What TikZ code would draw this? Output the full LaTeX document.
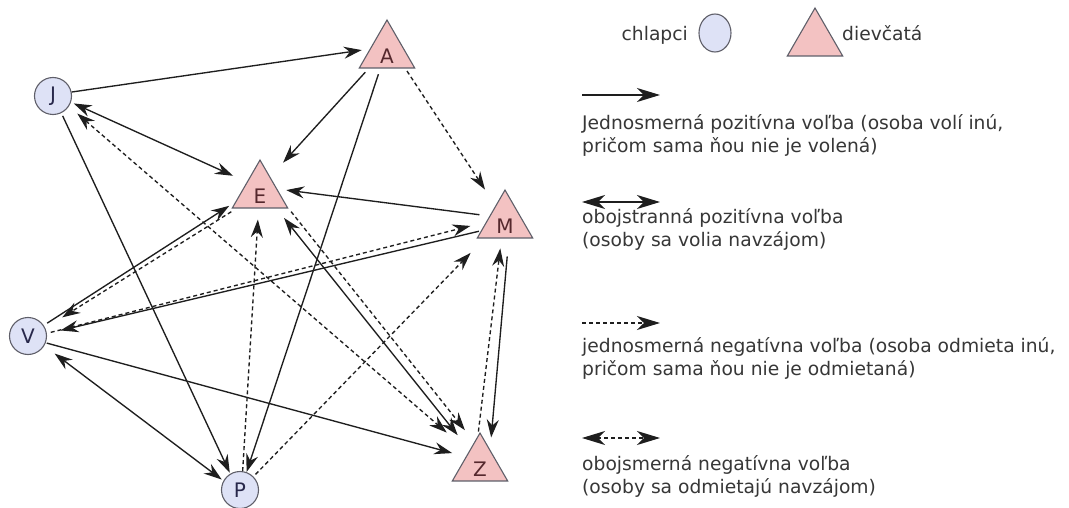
\documentclass[tikz,border=0pt]{standalone}
\usepackage{fontspec}
\setmainfont{DejaVu Sans}
\usetikzlibrary{arrows.meta,shapes.geometric}

\definecolor{boyfill}{RGB}{222,226,246}
\definecolor{girlfill}{RGB}{243,194,194}
\definecolor{outline}{RGB}{95,95,105}
\definecolor{edgecol}{RGB}{30,30,30}
\definecolor{legtxt}{RGB}{55,55,55}
\definecolor{boytxt}{RGB}{40,40,75}
\definecolor{girltxt}{RGB}{85,40,45}

\begin{document}
\begin{tikzpicture}[x=1pt,y=-1pt,
  >={Stealth[length=18pt,width=12pt,inset=6pt]},
  boy/.style={circle,draw=outline,line width=1.1pt,fill=boyfill,minimum size=37pt,
    inner sep=0pt,text=boytxt,font=\fontsize{20}{20}\selectfont},
  girl/.style={regular polygon,regular polygon sides=3,draw=outline,line width=1.1pt,
    fill=girlfill,minimum size=54pt,inner sep=0pt,text=girltxt,
    font=\fontsize{20}{20}\selectfont,text height=22.6pt,text depth=0pt},
  link/.style={draw=edgecol,line width=1.35pt},
  onepos/.style={link,->},
  twopos/.style={link,<->},
  oneneg/.style={link,->,dash pattern=on 4pt off 3pt},
  twoneg/.style={link,<->,dash pattern=on 4pt off 3pt},
  legarrow/.style={>={Stealth[length=23pt,width=14pt,inset=7pt]}},
  legtext/.style={anchor=base west,text=legtxt,inner sep=0pt,
    font=\fontsize{18.7}{23}\selectfont},
]
\fill[white] (0,0) rectangle (1069,508);
\useasboundingbox (0,0) rectangle (1069,508);

% pupils
\node[boy]  (J) at (53,96)   {J};
\node[boy]  (V) at (28,336)  {V};
\node[boy]  (P) at (240,490) {P};
\node[girl] (A) at (387,52)  {A};
\node[girl] (E) at (260,192) {E};
\node[girl] (M) at (505,222) {M};
\node[girl] (Z) at (480,465) {Z};

% choices
\draw[onepos, shorten >=8pt] (J.12) -- (A.170);
\draw[twopos, shorten <=3pt, shorten >=15pt] (J.-19) -- (E.143);
\draw[onepos, shorten <=3pt, shorten >=1pt] (J.-64) -- (P.121);
\draw[twoneg, shorten <=11pt, shorten >=29pt] (J.-33) -- (Z.130);
\draw[onepos, shorten <=5pt, shorten >=19pt] (A.222) -- (E.56);
\draw[onepos, shorten <=6pt] (A.248) -- (P.70);
\draw[oneneg, shorten <=3pt, shorten >=19pt] (A.-42) -- (M.120);
\draw[onepos, shorten <=10pt, shorten >=9pt] (M.159) -- (E.10);
\draw[onepos, shorten <=4pt, shorten >=7pt] (V.34) -- (E.202);
\draw[oneneg, shorten <=6pt, shorten >=20pt] (E.215) -- (V.25);
\draw[oneneg, shorten <=4pt, shorten >=16pt] (V.8) -- (M.180);
\draw[onepos, shorten <=2pt, shorten >=14pt] (M.200) -- (V.7);
\draw[onepos, shorten <=1pt, shorten >=14pt] (V.-21) -- (Z.150);
\draw[twopos, shorten <=13pt, shorten >=2pt] (V.-31) -- (P.151);
\draw[twopos, shorten <=12pt, shorten >=19pt] (E.-45) -- (Z.125);
\draw[oneneg, shorten <=4pt, shorten >=15pt] (E.-30) -- (Z.104);
\draw[oneneg, shorten >=11pt] (P.82) -- (E.-95);
\draw[oneneg, shorten <=3pt, shorten >=20pt] (P.45) -- (M.219);
\draw[oneneg, shorten <=4pt, shorten >=10pt] (Z.94) -- (M.-102);
\draw[onepos, shorten <=18pt, shorten >=12pt] (M.-77) -- (Z.57);

% key
\node[legtext,anchor=base east] (boylbl) at (688,41) {chlapci};
\node[boy,ellipse,minimum width=32pt,minimum height=38pt] (boykey) at (715,33) {};
\node[girl,minimum size=56pt] (girlkey) at (815,40) {};
\node[legtext] (girllbl) at (842,41) {dievčatá};

\coordinate (k1a) at (582,95);  \coordinate (k1b) at (660,95);
\coordinate (k2a) at (582,202); \coordinate (k2b) at (660,202);
\coordinate (k3a) at (582,323); \coordinate (k3b) at (660,323);
\coordinate (k4a) at (582,438); \coordinate (k4b) at (660,438);
\draw[legarrow,onepos] (k1a) -- (k1b);
\draw[legarrow,twopos] (k2a) -- (k2b);
\draw[legarrow,oneneg] (k3a) -- (k3b);
\draw[legarrow,twoneg] (k4a) -- (k4b);

\node[legtext] (k1t1) at (582,130) {Jednosmerná pozitívna voľba (osoba volí inú,};
\node[legtext] (k1t2) at (582,153) {pričom sama ňou nie je volená)};
\node[legtext] (k2t1) at (582,223) {obojstranná pozitívna voľba};
\node[legtext] (k2t2) at (582,246) {(osoby sa volia navzájom)};
\node[legtext] (k3t1) at (582,352) {jednosmerná negatívna voľba (osoba odmieta inú,};
\node[legtext] (k3t2) at (582,375) {pričom sama ňou nie je odmietaná)};
\node[legtext] (k4t1) at (582,470) {obojsmerná negatívna voľba};
\node[legtext] (k4t2) at (582,493) {(osoby sa odmietajú navzájom)};
\end{tikzpicture}
\end{document}
